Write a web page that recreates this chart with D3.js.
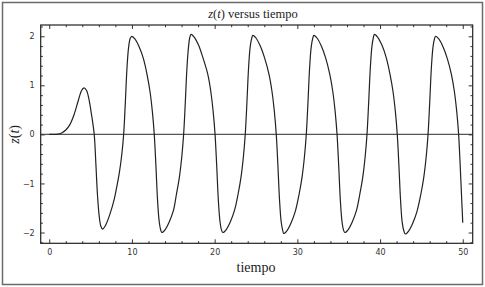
<!DOCTYPE html>
<html>
<head>
<meta charset="utf-8">
<script src="https://cdn.jsdelivr.net/npm/d3@7"></script>
<style>
  body { margin: 0; background: #fff; }
  svg { display: block; }
</style>
</head>
<body>
<div id="chart"></div>
<script>
// Values: z(t) against tiempo
var tiempo = [
  0, 0.5, 1.0, 1.5, 2.0, 2.5, 3.0, 3.5, 3.9, 4.2, 4.5, 4.8, 5.1, 5.44,
  5.64, 5.84, 6.04, 6.24, 6.45, 6.85, 7.35, 7.85, 8.13, 8.48, 8.78, 9.0,
  9.2, 9.4, 9.6, 9.8, 9.98, 10.38, 10.88, 11.38, 11.83, 12.18, 12.48, 12.7,
  12.9, 13.1, 13.3, 13.5, 13.62, 14.02, 14.52, 15.02, 15.38, 15.73, 16.03, 16.25,
  16.45, 16.65, 16.85, 17.0, 17.15, 17.55, 18.05, 18.55, 19.18, 19.53, 19.83, 20.05,
  20.25, 20.45, 20.65, 20.85, 21.0, 21.4, 21.9, 22.4, 22.83, 23.18, 23.48, 23.7,
  23.9, 24.1, 24.3, 24.5, 24.62, 25.02, 25.52, 26.02, 26.58, 26.93, 27.23, 27.45,
  27.65, 27.85, 28.05, 28.25, 28.35, 28.75, 29.25, 29.75, 30.21, 30.56, 30.86, 31.08,
  31.28, 31.48, 31.68, 31.88, 32.0, 32.4, 32.9, 33.4, 33.93, 34.28, 34.58, 34.8,
  35.0, 35.2, 35.4, 35.6, 35.75, 36.15, 36.65, 37.15, 37.55, 37.9, 38.2, 38.42,
  38.62, 38.82, 39.02, 39.2, 39.32, 39.72, 40.22, 40.72, 41.21, 41.56, 41.86, 42.08,
  42.28, 42.48, 42.68, 42.88, 43.05, 43.45, 43.95, 44.45, 44.93, 45.28, 45.58, 45.8,
  46.0, 46.2, 46.4, 46.6, 46.72, 47.12, 47.62, 48.12, 48.63, 48.98, 49.28, 49.5,
  49.7, 49.85, 50.0
];
var zValues = [
  0, 0, 0.005, 0.03, 0.09, 0.2, 0.4, 0.68, 0.89, 0.95, 0.9, 0.72, 0.42, 0,
  -0.6, -1.25, -1.66, -1.87, -1.93, -1.84, -1.62, -1.33, -1.1, -0.78, -0.4, 0,
  0.64, 1.35, 1.78, 1.96, 2.0, 1.94, 1.78, 1.55, 1.22, 0.88, 0.45, 0,
  -0.64, -1.35, -1.78, -1.96, -2.0, -1.94, -1.78, -1.55, -1.22, -0.88, -0.45, 0,
  0.64, 1.35, 1.8, 1.98, 2.04, 1.98, 1.82, 1.58, 1.22, 0.88, 0.45, 0,
  -0.64, -1.35, -1.78, -1.96, -2.0, -1.94, -1.78, -1.55, -1.22, -0.88, -0.45, 0,
  0.64, 1.35, 1.79, 1.97, 2.02, 1.96, 1.8, 1.57, 1.22, 0.88, 0.45, 0,
  -0.64, -1.35, -1.79, -1.97, -2.02, -1.96, -1.8, -1.57, -1.22, -0.88, -0.45, 0,
  0.64, 1.35, 1.79, 1.97, 2.02, 1.96, 1.8, 1.57, 1.22, 0.88, 0.45, 0,
  -0.64, -1.35, -1.78, -1.96, -2.0, -1.94, -1.78, -1.55, -1.22, -0.88, -0.45, 0,
  0.64, 1.35, 1.8, 1.98, 2.04, 1.98, 1.82, 1.58, 1.22, 0.88, 0.45, 0,
  -0.64, -1.35, -1.8, -1.97, -2.03, -1.97, -1.81, -1.58, -1.22, -0.88, -0.45, 0,
  0.64, 1.35, 1.78, 1.96, 2.0, 1.94, 1.78, 1.55, 1.22, 0.88, 0.45, 0,
  -0.68, -1.25, -1.8
];
var xTicks = [0, 10, 20, 30, 40, 50];
var xMinorTicks = [2, 4, 6, 8, 12, 14, 16, 18, 22, 24, 26, 28, 32, 34, 36, 38, 42, 44, 46, 48];
var yTicks = [-2, -1, 0, 1, 2];
var yMinorTicks = [-2.2, -1.8, -1.6, -1.4, -1.2, -0.8, -0.6, -0.4, -0.2,
  0.2, 0.4, 0.6, 0.8, 1.2, 1.4, 1.6, 1.8, 2.2];

var W = 485, H = 287;
var frame = { left: 40.7, right: 472.7, top: 25, bottom: 243.3 };

var svg = d3.select('#chart').append('svg')
  .attr('width', W)
  .attr('height', H);

// outer grey border of the picture
svg.append('rect')
  .attr('x', 2.5).attr('y', 2.5)
  .attr('width', W - 5).attr('height', H - 5)
  .attr('fill', '#fff')
  .attr('stroke', '#6b6b6b')
  .attr('stroke-width', 1.5);

var x = d3.scaleLinear()
  .domain([-1.03, 51.2])
  .range([frame.left, frame.right]);

var y = d3.scaleLinear()
  .domain([-2.22, 2.23])
  .range([frame.bottom, frame.top]);

var data = tiempo.map(function (t, i) { return { t: t, z: zValues[i] }; });

var g = svg.append('g');

// zero axis line
g.append('line')
  .attr('x1', frame.left).attr('x2', frame.right)
  .attr('y1', y(0)).attr('y2', y(0))
  .attr('stroke', '#555')
  .attr('stroke-width', 1.1);

// the curve
var line = d3.line()
  .x(function (d) { return x(d.t); })
  .y(function (d) { return y(d.z); })
  .curve(d3.curveCatmullRom.alpha(0.5));

g.append('path')
  .datum(data)
  .attr('fill', 'none')
  .attr('stroke', '#222')
  .attr('stroke-width', 1.2)
  .attr('d', line);

// frame ticks on all four sides, pointing inward
function styleAxis(sel) {
  sel.select('.domain').remove();
  sel.selectAll('line').attr('stroke', '#333').attr('stroke-width', 1);
  sel.selectAll('text')
    .attr('fill', '#333')
    .style('font-family', '"DejaVu Sans", sans-serif')
    .style('font-size', '8px');
}

var fmtY = function (d) { return d < 0 ? '\u2212' + Math.abs(d) : d; };

var axes = [
  [d3.axisBottom(x).tickValues(xTicks).tickSize(-4).tickPadding(6).tickFormat(d3.format('d')), 'translate(0,' + frame.bottom + ')'],
  [d3.axisTop(x).tickValues(xTicks).tickSize(-4).tickFormat(''), 'translate(0,' + frame.top + ')'],
  [d3.axisLeft(y).tickValues(yTicks).tickSize(-4).tickPadding(6).tickFormat(fmtY), 'translate(' + frame.left + ',0)'],
  [d3.axisRight(y).tickValues(yTicks).tickSize(-4).tickFormat(''), 'translate(' + frame.right + ',0)'],
  [d3.axisBottom(x).tickValues(xMinorTicks).tickSize(-2.2).tickFormat(''), 'translate(0,' + frame.bottom + ')'],
  [d3.axisTop(x).tickValues(xMinorTicks).tickSize(-2.2).tickFormat(''), 'translate(0,' + frame.top + ')'],
  [d3.axisLeft(y).tickValues(yMinorTicks).tickSize(-2.2).tickFormat(''), 'translate(' + frame.left + ',0)'],
  [d3.axisRight(y).tickValues(yMinorTicks).tickSize(-2.2).tickFormat(''), 'translate(' + frame.right + ',0)']
];
axes.forEach(function (a) {
  g.append('g').attr('transform', a[1]).call(a[0]).call(styleAxis);
});

// frame box
g.append('rect')
  .attr('x', frame.left).attr('y', frame.top)
  .attr('width', frame.right - frame.left)
  .attr('height', frame.bottom - frame.top)
  .attr('fill', 'none')
  .attr('stroke', '#222')
  .attr('stroke-width', 1.2);

// title
var title = svg.append('text')
  .attr('x', 253).attr('y', 18)
  .attr('text-anchor', 'middle')
  .style('font-family', '"Liberation Serif", serif')
  .style('font-size', '12.5px')
  .attr('fill', '#222');
title.append('tspan').style('font-style', 'italic').text('z');
title.append('tspan').text('(');
title.append('tspan').style('font-style', 'italic').text('t');
title.append('tspan').text(') versus tiempo');

// x label
svg.append('text')
  .attr('x', 256).attr('y', 272)
  .attr('text-anchor', 'middle')
  .style('font-family', '"Liberation Serif", serif')
  .style('font-size', '14px')
  .attr('fill', '#222')
  .text('tiempo');

// y label
var yl = svg.append('text')
  .attr('transform', 'translate(19,' + y(0) + ') rotate(-90)')
  .attr('text-anchor', 'middle')
  .style('font-family', '"Liberation Serif", serif')
  .style('font-size', '14px')
  .attr('fill', '#222');
yl.append('tspan').style('font-style', 'italic').text('z');
yl.append('tspan').text('(');
yl.append('tspan').style('font-style', 'italic').text('t');
yl.append('tspan').text(')');
</script>
</body>
</html>
